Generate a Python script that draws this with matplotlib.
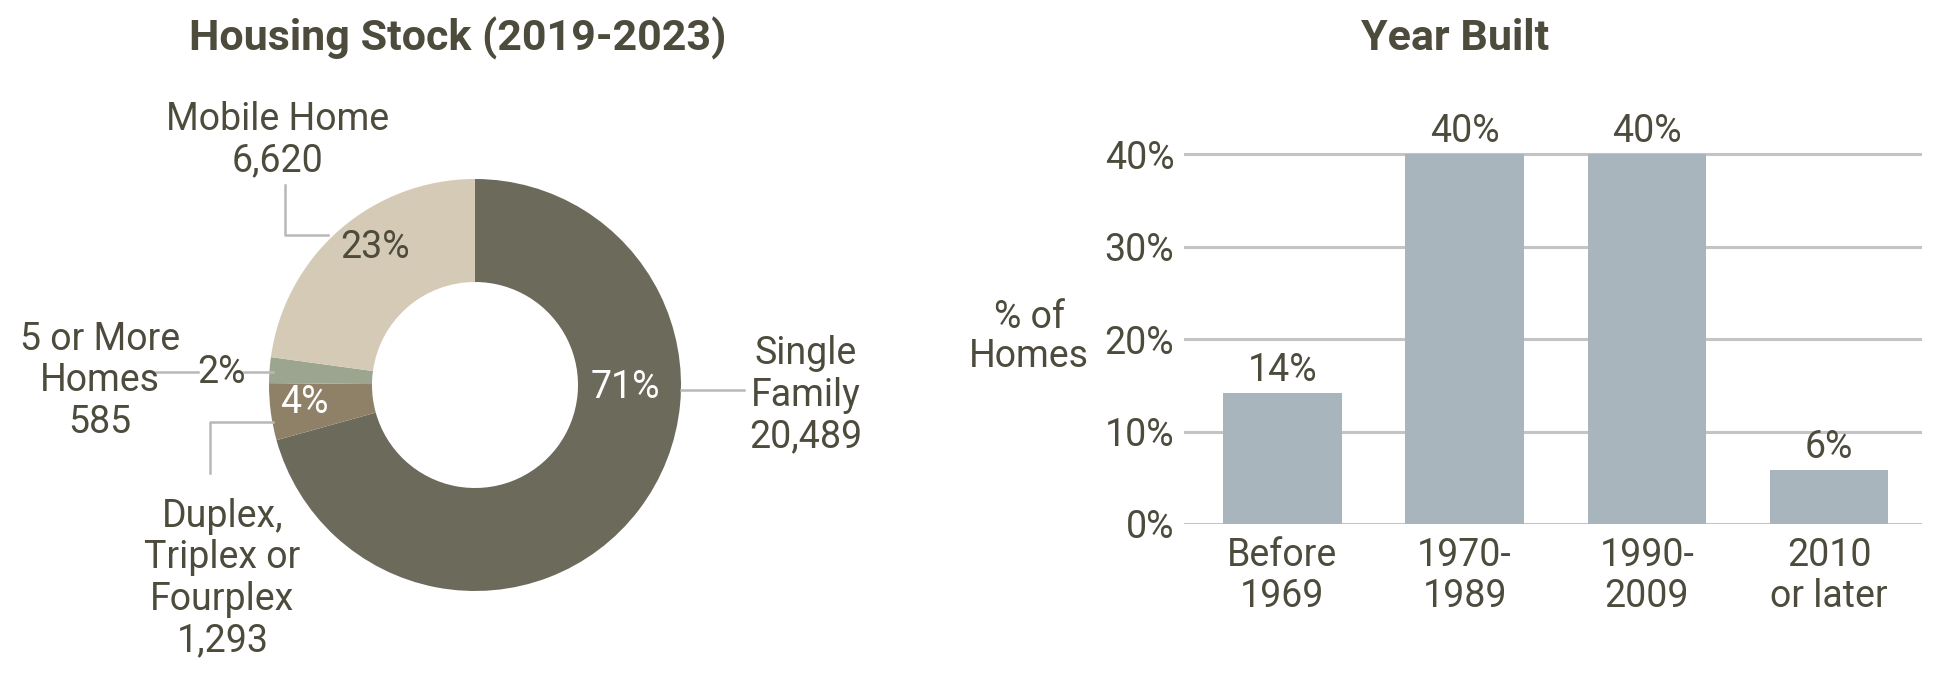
import matplotlib
matplotlib.use('Agg')
import matplotlib.pyplot as plt

plt.rcParams['font.family'] = ['Roboto', 'DejaVu Sans']

# housing stock data
stock_labels = ['Single\nFamily', 'Duplex,\nTriplex or\nFourplex', '5 or More\nHomes', 'Mobile Home']
stock_counts = [20489, 1293, 585, 6620]
stock_colors = ['#6b6a5b', '#8f8068', '#9ba58f', '#d5cab6']

# year built data
year_labels = ['Before\n1969', '1970-\n1989', '1990-\n2009', '2010\nor later']
year_pct = [14.2, 40.0, 40.0, 5.8]

txt = '#4d4b3c'
line_c = '#b8b8b8'

fig = plt.figure(figsize=(19.52, 6.79), dpi=100)

# ---- donut ----
R = 206.0
cx, cy = 475.0, 385.0
ax1 = fig.add_axes([0, 0, 976 / 1952, 1])
ax1.axis('off')

wedges, _ = ax1.pie(stock_counts, colors=stock_colors, startangle=90, counterclock=False,
                    radius=1, wedgeprops=dict(width=0.5, linewidth=0))
ax1.set_xlim(-cx / R, (976 - cx) / R)
ax1.set_ylim(-(679 - cy) / R, cy / R)
ax1.set_aspect('auto')

total = sum(stock_counts)
pcts = [f'{round(v / total * 100)}%' for v in stock_counts]
counts = [f'{v:,}' for v in stock_counts]

fs = 27
tfs = 31
# percent labels (positions, colours)
pct_pos = [(0.73, -0.01, 'white'), (-0.83, -0.085, 'white'), (-1.233, 0.061, txt), (-0.485, 0.667, txt)]
for p, (x, y, c) in zip(pcts, pct_pos):
    ax1.text(x, y, p, color=c, fontsize=fs, ha='center', va='center')

# category labels
cat_pos = [(1.607, -0.05), (-1.226, -0.94), (-1.82, 0.02), (-0.959, 1.19)]
for lab, cnt, (x, y) in zip(stock_labels, counts, cat_pos):
    ax1.text(x, y, f'{lab}\n{cnt}', color=txt, fontsize=fs, ha='center', va='center',
             linespacing=1.15)

# leader lines
lw = 1.8
ax1.plot([1.0, 1.306], [-0.024, -0.024], color=line_c, lw=lw)
ax1.plot([-1.549, -1.347], [0.061, 0.061], color=line_c, lw=lw)
ax1.plot([-1.121, -0.983], [0.061, 0.061], color=line_c, lw=lw)
ax1.plot([-0.922, -0.922, -0.716], [0.971, 0.728, 0.728], color=line_c, lw=lw)
ax1.plot([-1.286, -1.286, -0.983], [-0.425, -0.182, -0.182], color=line_c, lw=lw)

fig.text(458 / 1952, 1 - 38 / 679, 'Housing Stock (2019-2023)', fontsize=tfs, fontweight='bold',
         color=txt, ha='center', va='center')

# ---- bars ----
ax2 = fig.add_axes([1184 / 1952, (679 - 524) / 679, 738 / 1952, 416 / 679])
x = range(len(year_pct))
bars = ax2.bar(x, year_pct, width=0.65, color='#a8b5bc', zorder=2)
ax2.set_xlim(-0.54, 3.51)
ax2.set_ylim(0, 45)
ax2.set_yticks([0, 10, 20, 30, 40])
ax2.set_yticklabels([f'{t}%' for t in [0, 10, 20, 30, 40]])
ax2.yaxis.grid(True, color='#c4c4c4', lw=2.2, zorder=0)
ax2.set_axisbelow(True)
for s in ax2.spines.values():
    s.set_visible(False)
ax2.set_xticks(list(x))
ax2.set_xticklabels(year_labels, linespacing=1.15)
ax2.tick_params(length=0, labelsize=fs, labelcolor=txt)
ax2.tick_params(axis='y', pad=7)
ax2.tick_params(axis='x', pad=9)
for b, v in zip(bars, year_pct):
    ax2.annotate(f'{round(v)}%', (b.get_x() + b.get_width() / 2, v), xytext=(0, 3),
                 textcoords='offset points', ha='center', va='bottom', fontsize=fs, color=txt)

fig.text(1029 / 1952, 1 - 337 / 679, '% of\nHomes', fontsize=fs, color=txt, ha='center',
         va='center', linespacing=1.1)
fig.text(1455 / 1952, 1 - 38 / 679, 'Year Built', fontsize=tfs, fontweight='bold',
         color=txt, ha='center', va='center')

fig.savefig('out.png', dpi=100, facecolor='white')
